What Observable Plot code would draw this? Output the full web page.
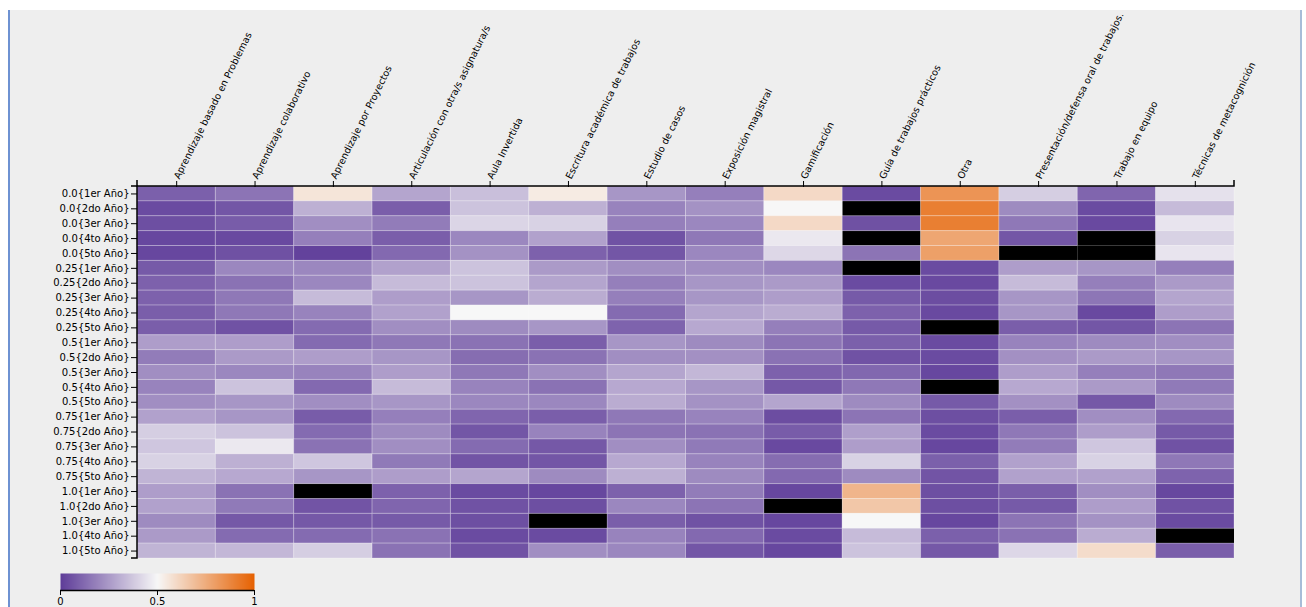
<!DOCTYPE html>
<html>
<head>
<meta charset="utf-8">
<script src="https://cdn.jsdelivr.net/npm/d3@7"></script>
<script src="https://cdn.jsdelivr.net/npm/@observablehq/plot@0.6"></script>
<style>
  html, body { margin: 0; padding: 0; background: #ffffff; }
  #frame {
    position: absolute; left: 8px; top: 10px; width: 1290px; height: 597px;
    background: #eeeeee;
    border-left: 2px solid #6e92d2;
    border-right: 2px solid #a7bcd8;
    font-family: "DejaVu Sans", sans-serif;
  }
  #chart { position: absolute; left: 0; top: 0; }
  #legend { position: absolute; left: 40px; top: 563px; }
  svg { overflow: visible; }
</style>
</head>
<body>
<div id="frame"><div id="chart"></div><div id="legend"></div></div>
<script>
const columns = [
  "Aprendizaje basado en Problemas",
  "Aprendizaje colaborativo",
  "Aprendizaje por Proyectos",
  "Articulación con otra/s asignatura/s",
  "Aula Invertida",
  "Escritura académica de trabajos",
  "Estudio de casos",
  "Exposición magistral",
  "Gamificación",
  "Guía de trabajos prácticos",
  "Otra",
  "Presentación/defensa oral de trabajos.",
  "Trabajo en equipo",
  "Técnicas de metacognición"
];
const levels = ["0.0", "0.25", "0.5", "0.75", "1.0"];
const years = ["1er Año", "2do Año", "3er Año", "4to Año", "5to Año"];
const legendTicks = [0, 0.5, 1];

// one row per level{year}, one value per column; null = no data (drawn black)
const values = [
  [0.095, 0.15, 0.56, 0.28, 0.35, 0.54, 0.24, 0.18, 0.60, 0.04, 0.83, 0.39, 0.11, 0.44],
  [0.04, 0.07, 0.31, 0.09, 0.36, 0.31, 0.19, 0.23, 0.50, null, 0.90, 0.21, 0.04, 0.34],
  [0.05, 0.085, 0.22, 0.17, 0.41, 0.40, 0.18, 0.20, 0.60, 0.055, 0.90, 0.16, 0.035, 0.45],
  [0.03, 0.035, 0.18, 0.09, 0.20, 0.27, 0.06, 0.16, 0.46, null, 0.77, 0.07, null, 0.40],
  [0.03, 0.055, 0.015, 0.12, 0.23, 0.10, 0.07, 0.20, 0.415, 0.15, 0.79, null, null, 0.45],
  [0.08, 0.20, 0.20, 0.27, 0.36, 0.25, 0.22, 0.22, 0.20, null, 0.04, 0.26, 0.24, 0.18],
  [0.10, 0.145, 0.20, 0.34, 0.36, 0.28, 0.18, 0.24, 0.25, 0.04, 0.035, 0.34, 0.18, 0.25],
  [0.10, 0.16, 0.34, 0.26, 0.24, 0.30, 0.18, 0.24, 0.26, 0.08, 0.045, 0.24, 0.155, 0.28],
  [0.09, 0.16, 0.19, 0.27, 0.50, 0.50, 0.125, 0.28, 0.30, 0.10, 0.035, 0.24, 0.035, 0.26],
  [0.09, 0.06, 0.125, 0.22, 0.21, 0.24, 0.105, 0.29, 0.18, 0.08, null, 0.09, 0.07, 0.15],
  [0.26, 0.26, 0.125, 0.16, 0.145, 0.09, 0.24, 0.21, 0.15, 0.095, 0.04, 0.19, 0.21, 0.22],
  [0.17, 0.25, 0.26, 0.24, 0.13, 0.145, 0.22, 0.225, 0.145, 0.06, 0.04, 0.225, 0.25, 0.24],
  [0.22, 0.20, 0.19, 0.26, 0.16, 0.22, 0.28, 0.33, 0.10, 0.115, 0.03, 0.26, 0.18, 0.16],
  [0.19, 0.36, 0.12, 0.34, 0.19, 0.145, 0.29, 0.24, 0.075, 0.16, null, 0.29, 0.25, 0.165],
  [0.22, 0.24, 0.22, 0.24, 0.20, 0.20, 0.30, 0.23, 0.28, 0.21, 0.08, 0.225, 0.075, 0.21],
  [0.27, 0.24, 0.085, 0.18, 0.11, 0.09, 0.16, 0.19, 0.045, 0.15, 0.05, 0.09, 0.22, 0.12],
  [0.39, 0.36, 0.125, 0.21, 0.07, 0.19, 0.15, 0.145, 0.085, 0.265, 0.04, 0.16, 0.26, 0.08],
  [0.37, 0.46, 0.145, 0.22, 0.125, 0.075, 0.22, 0.165, 0.035, 0.26, 0.03, 0.17, 0.37, 0.06],
  [0.40, 0.31, 0.37, 0.165, 0.065, 0.07, 0.29, 0.19, 0.13, 0.40, 0.095, 0.27, 0.40, 0.16],
  [0.32, 0.29, 0.24, 0.26, 0.28, 0.21, 0.31, 0.21, 0.12, 0.21, 0.065, 0.27, 0.27, 0.105],
  [0.26, 0.145, null, 0.10, 0.04, 0.03, 0.10, 0.17, 0.03, 0.72, 0.05, 0.09, 0.22, 0.03],
  [0.27, 0.165, 0.065, 0.11, 0.06, 0.05, 0.20, 0.15, null, 0.66, 0.05, 0.08, 0.26, 0.06],
  [0.21, 0.075, 0.075, 0.08, 0.05, null, 0.09, 0.06, 0.03, 0.50, 0.03, 0.15, 0.23, 0.04],
  [0.25, 0.125, 0.125, 0.145, 0.04, 0.04, 0.19, 0.12, 0.04, 0.34, 0.095, 0.145, 0.30, null],
  [0.32, 0.33, 0.39, 0.145, 0.06, 0.22, 0.20, 0.07, 0.03, 0.36, 0.075, 0.415, 0.59, 0.09]
];

const rowLabels = [];
for (const l of levels) for (const y of years) rowLabels.push(`${l}{${y}}`);

const table = [];
rowLabels.forEach((r, i) => columns.forEach((c, j) => table.push({row: r, col: c, value: values[i][j]})));

const colorScale = {
  type: "linear",
  domain: [0, 0.5, 1],
  range: ["#5e3c99", "#f7f7f7", "#e66101"],
  unknown: "black"
};

const chart = Plot.plot({
  width: 1290,
  height: 556,
  marginLeft: 127,
  marginRight: 66,
  marginTop: 176,
  marginBottom: 8,
  style: {background: "transparent", fontFamily: "DejaVu Sans, sans-serif", fontSize: "10px", color: "black", overflow: "visible"},
  x: {domain: columns, padding: 0, round: false, axis: null},
  y: {domain: rowLabels, padding: 0, round: false, axis: null},
  color: colorScale,
  marks: [
    Plot.cell(table.filter(d => d.value == null), {x: "col", y: "row", fill: "black", inset: 0}),
    Plot.cell(table.filter(d => d.value != null), {x: "col", y: "row", fill: "value", inset: 0, stroke: "white", strokeOpacity: 0.25, strokeWidth: 1}),
    Plot.axisX({anchor: "top", tickSize: 6, tickPadding: 2, tickRotate: -63.5, label: null, fontSize: 9.6}),
    Plot.axisY({anchor: "left", tickSize: 6, tickPadding: 2, label: null, fontSize: 10})
  ]
});
document.getElementById("chart").appendChild(chart);

// domain lines with outer ticks (d3-axis style), from the plot's own scales
{
  const xs = chart.scale("x").range;
  const ys = chart.scale("y").range;
  const svg = d3.select(chart);
  const x0 = Math.min(...xs), x1 = Math.max(...xs);
  const y0 = Math.min(...ys), y1 = Math.max(...ys);
  svg.append("path")
    .attr("d", `M${x0},${y0 - 6}V${y0}H${x1}V${y0 - 6}`)
    .attr("fill", "none").attr("stroke", "black").attr("stroke-width", 1.5);
  svg.append("path")
    .attr("d", `M${x0 - 6},${y0}H${x0}V${y1}H${x0 - 6}`)
    .attr("fill", "none").attr("stroke", "black").attr("stroke-width", 1.5);
}

const legend = Plot.plot({
  width: 220,
  height: 40,
  marginLeft: 10,
  marginRight: 16,
  marginTop: 0,
  marginBottom: 23,
  style: {background: "transparent", fontFamily: "DejaVu Sans, sans-serif", fontSize: "10px", color: "black", overflow: "visible"},
  x: {domain: [0, 1], axis: null},
  y: {domain: [0, 1], axis: null},
  color: colorScale,
  marks: [
    Plot.raster({fill: (x, y) => x, x1: 0, x2: 1, y1: 0, y2: 1, width: 194, height: 1, imageRendering: "auto"}),
    Plot.ruleY([0], {stroke: "black", strokeWidth: 1.5}),
    Plot.axisX({anchor: "bottom", ticks: legendTicks, tickFormat: d => String(d), tickSize: 5, tickPadding: 2, label: null, fontSize: 10})
  ]
});
document.getElementById("legend").appendChild(legend);
</script>
</body>
</html>
